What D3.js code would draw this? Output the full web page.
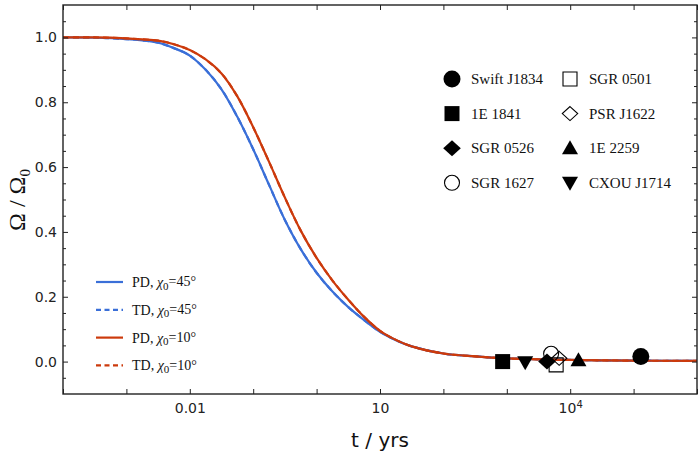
<!DOCTYPE html>
<html>
<head>
<meta charset="utf-8">
<script src="https://cdnjs.cloudflare.com/ajax/libs/d3/7.8.5/d3.min.js"></script>
<style>
  body { margin: 0; background: #fff; }
  .axis text { font-family: "DejaVu Sans", Verdana, sans-serif; font-size: 14px; fill: #222; }
  .axis .domain { display: none; }
  .axis line { stroke: #222; stroke-width: 1; }
  .leg { font-family: "Liberation Serif", "Times New Roman", serif; font-size: 14px; fill: #111; }
  .legm { font-family: "Liberation Serif", "Times New Roman", serif; font-size: 15px; fill: #111; }
</style>
</head>
<body>
<svg width="698" height="460"></svg>
<script>
// time grid in years
const tYears = [1e-4, 3.16e-4, 1e-3, 0.00178, 0.00316, 0.00562, 0.01, 0.0178, 0.0316, 0.0562, 0.1, 0.178, 0.316, 0.562,
                1, 1.78, 3.16, 5.62, 10, 17.8, 31.6, 100, 316, 1000, 1e4, 1e5, 1e6];

const pd45 = [1.000, 0.999, 0.995, 0.991, 0.984, 0.967, 0.944, 0.900, 0.840, 0.755, 0.655, 0.545, 0.437, 0.347,
              0.274, 0.216, 0.168, 0.128, 0.092, 0.066, 0.047, 0.025, 0.016, 0.010, 0.005, 0.003, 0.002];
const td45 = [1.000, 0.999, 0.995, 0.991, 0.984, 0.967, 0.944, 0.900, 0.840, 0.755, 0.655, 0.545, 0.437, 0.347,
              0.274, 0.216, 0.168, 0.128, 0.092, 0.066, 0.047, 0.025, 0.016, 0.010, 0.005, 0.003, 0.002];
const pd10 = [1.000, 1.000, 0.997, 0.994, 0.990, 0.979, 0.961, 0.932, 0.889, 0.818, 0.723, 0.616, 0.506, 0.404,
              0.320, 0.250, 0.191, 0.138, 0.095, 0.067, 0.047, 0.025, 0.016, 0.010, 0.005, 0.003, 0.002];
const td10 = [1.000, 1.000, 0.997, 0.994, 0.990, 0.979, 0.961, 0.932, 0.889, 0.818, 0.723, 0.616, 0.506, 0.404,
              0.320, 0.250, 0.191, 0.138, 0.095, 0.067, 0.047, 0.025, 0.016, 0.010, 0.005, 0.003, 0.002];

// magnetars
const srcNames = ["Swift J1834", "1E 1841", "SGR 0526", "SGR 1627", "SGR 0501", "PSR J1622", "1E 2259", "CXOU J1714"];
const srcAge   = [1.3e5, 860, 4300, 5000, 6000, 6700, 13500, 1950];
const srcOmega = [0.016, 0.000, 0.000, 0.024, -0.010, 0.010, 0.004, -0.002];
const srcShape = ["circle", "square", "diamond", "circle", "square", "diamond", "triUp", "triDown"];
const srcFill  = [true, true, true, false, false, false, true, true];

const curveNames = ["PD, ", "TD, ", "PD, ", "TD, "];
const curveAngle = ["45°", "45°", "10°", "10°"];

const xTickVals = [1e-4, 1e-3, 1e-2, 1e-1, 1, 10, 100, 1e3, 1e4, 1e5, 1e6];
const yMajor = [0, 0.2, 0.4, 0.6, 0.8, 1.0];

const svg = d3.select("svg");
const margin = { left: 63, right: 1, top: 5, bottom: 66 };
const W = 698, H = 460;

const x = d3.scaleLog().domain([1e-4, 1e6]).range([margin.left, W - margin.right]);
const y = d3.scaleLinear().domain([-0.1, 1.1]).range([H - margin.bottom, margin.top]);

const blue = "#3a6fd8", red = "#cc3a0c";

// clip
svg.append("defs").append("clipPath").attr("id", "clip")
  .append("rect").attr("x", x.range()[0]).attr("y", y.range()[1])
  .attr("width", x.range()[1] - x.range()[0]).attr("height", y.range()[0] - y.range()[1]);

// curves
const line = d3.line().curve(d3.curveCatmullRom.alpha(0.5))
  .x(d => x(d[0])).y(d => y(d[1]));

const series = [
  { v: pd45, c: blue, dash: null },
  { v: td45, c: blue, dash: "6,4" },
  { v: pd10, c: red, dash: null },
  { v: td10, c: red, dash: "6,4" }
];
const gc = svg.append("g").attr("clip-path", "url(#clip)");
series.forEach(s => {
  gc.append("path")
    .datum(tYears.map((t, i) => [t, s.v[i]]))
    .attr("fill", "none")
    .attr("stroke", s.c)
    .attr("stroke-width", 2.2)
    .attr("stroke-dasharray", s.dash)
    .attr("d", line);
});

// marker shapes
function shapePath(kind, r) {
  if (kind === "circle") return d3.symbol(d3.symbolCircle, Math.PI * r * r)();
  if (kind === "square") return `M${-r},${-r}H${r}V${r}H${-r}Z`;
  if (kind === "diamond") return `M0,${-r}L${r * 1.1},0L0,${r}L${-r * 1.1},0Z`;
  if (kind === "triUp") return `M0,${-r}L${r},${r * 0.75}L${-r},${r * 0.75}Z`;
  if (kind === "triDown") return `M0,${r}L${r},${-r * 0.75}L${-r},${-r * 0.75}Z`;
}
function markerSize(kind, filled) {
  if (kind === "circle") return filled ? 8.5 : 7.5;
  if (kind === "square") return filled ? 7.5 : 7;
  if (kind === "diamond") return filled ? 8 : 7;
  return 8;
}
function drawMarker(g, i, cx, cy) {
  g.append("path")
    .attr("transform", `translate(${cx},${cy})`)
    .attr("d", shapePath(srcShape[i], markerSize(srcShape[i], srcFill[i])))
    .attr("fill", srcFill[i] ? "#000" : "#fff")
    .attr("fill-opacity", srcFill[i] ? 1 : 0)
    .attr("stroke", "#000")
    .attr("stroke-width", srcFill[i] ? 0 : 1.1);
}

const gm = svg.append("g");
srcNames.forEach((n, i) => drawMarker(gm, i, x(srcAge[i]), y(srcOmega[i])));

// axes: bottom / top
const fmtX = d => d === 0.01 ? "0.01" : d === 10 ? "10" : d === 1e4 ? "10^4" : "";
const gx = svg.append("g").attr("class", "axis")
  .attr("transform", `translate(0,${y.range()[0]})`)
  .call(d3.axisBottom(x).tickValues(xTickVals).tickSize(-5).tickPadding(9).tickFormat(fmtX));
gx.selectAll("text").filter(d => d === 1e4).each(function () {
  const t = d3.select(this).text("10");
  t.append("tspan").attr("dy", "-0.45em").style("font-size", "10px").text("4");
});
svg.append("g").attr("class", "axis")
  .attr("transform", `translate(0,${y.range()[1]})`)
  .call(d3.axisTop(x).tickValues(xTickVals).tickSize(-5).tickFormat(""));

// axes: left / right
const yMinor = d3.range(-0.05, 1.1, 0.05).filter(v => Math.abs(Math.round(v * 5) - v * 5) > 1e-6);
svg.append("g").attr("class", "axis")
  .attr("transform", `translate(${x.range()[0]},0)`)
  .call(d3.axisLeft(y).tickValues(yMajor).tickSize(-5).tickPadding(6).tickFormat(d3.format(".1f")));
svg.append("g").attr("class", "axis")
  .attr("transform", `translate(${x.range()[0]},0)`)
  .call(d3.axisLeft(y).tickValues(yMinor).tickSize(-3).tickFormat(""));
svg.append("g").attr("class", "axis")
  .attr("transform", `translate(${x.range()[1]},0)`)
  .call(d3.axisRight(y).tickValues(yMajor).tickSize(-5).tickFormat(""));
svg.append("g").attr("class", "axis")
  .attr("transform", `translate(${x.range()[1]},0)`)
  .call(d3.axisRight(y).tickValues(yMinor).tickSize(-3).tickFormat(""));

// frame
svg.append("rect")
  .attr("x", x.range()[0]).attr("y", y.range()[1])
  .attr("width", x.range()[1] - x.range()[0]).attr("height", y.range()[0] - y.range()[1])
  .attr("fill", "none").attr("stroke", "#222").attr("stroke-width", 1.4);

// axis titles
svg.append("text")
  .attr("x", (x.range()[0] + x.range()[1]) / 2).attr("y", 447)
  .attr("text-anchor", "middle")
  .style("font-family", "'DejaVu Sans', Verdana, sans-serif").style("font-size", "20px").style("fill", "#111")
  .text("t / yrs");

const yt = svg.append("text")
  .attr("transform", "translate(25,200) rotate(-90)")
  .attr("text-anchor", "middle")
  .style("font-family", "'Liberation Serif', 'Times New Roman', serif").style("font-size", "24px").style("fill", "#111");
yt.append("tspan").text("Ω / Ω");
yt.append("tspan").attr("dy", "0.3em").style("font-size", "15px").text("0");

// magnetar legend
const legM = svg.append("g");
srcNames.forEach((n, i) => {
  const col = i < 4 ? 0 : 1, row = i % 4;
  const mx = 452 + col * 118, my = 79 + row * 34.6;
  drawMarker(legM, i, mx, my);
  legM.append("text").attr("class", "legm")
    .attr("x", mx + 19).attr("y", my).attr("dy", "0.35em").text(n);
});

// curve legend
const legC = svg.append("g");
series.forEach((s, i) => {
  const ly = 282 + i * 27.8;
  legC.append("line").attr("x1", 96).attr("x2", 123).attr("y1", ly).attr("y2", ly)
    .attr("stroke", s.c).attr("stroke-width", 2.2).attr("stroke-dasharray", s.dash ? "5,3.5" : null);
  const t = legC.append("text").attr("class", "leg").attr("x", 132).attr("y", ly).attr("dy", "0.35em");
  t.append("tspan").text(curveNames[i]);
  t.append("tspan").style("font-style", "italic").text("χ");
  t.append("tspan").attr("dy", "0.25em").style("font-size", "11px").text("0");
  t.append("tspan").attr("dy", "-0.25em").text("=" + curveAngle[i]);
});
</script>
</body>
</html>
